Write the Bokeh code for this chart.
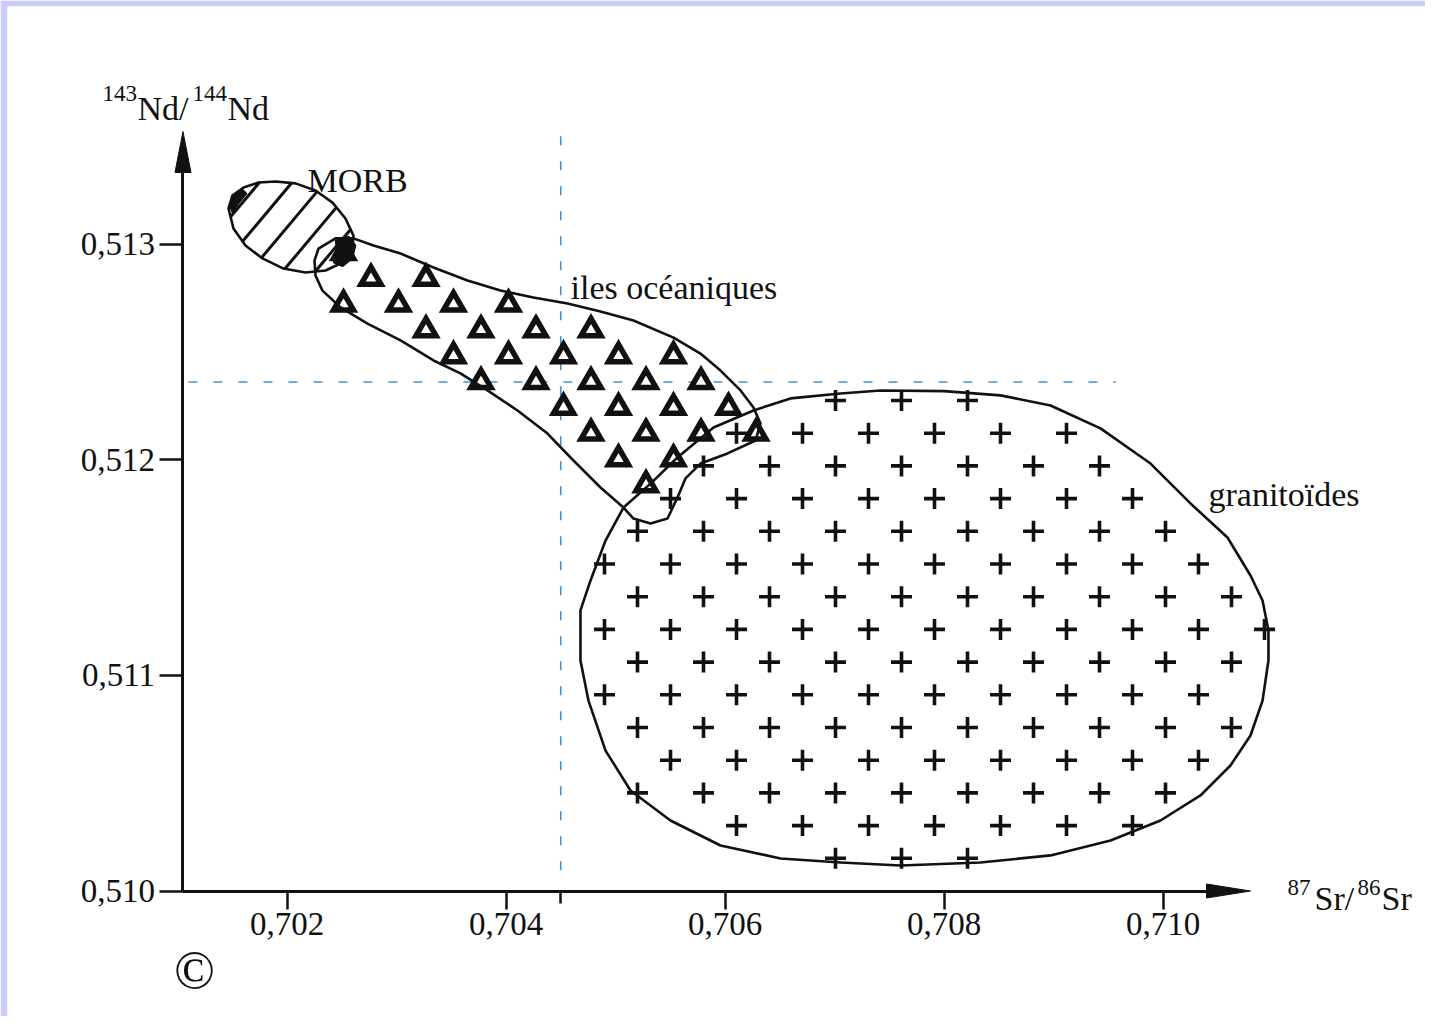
import numpy as np
from bokeh.plotting import figure
from bokeh.models import Label, FixedTicker, Range1d, CustomJSTickFormatter
from bokeh.embed import file_html
from bokeh.resources import INLINE

# ---------------- data ----------------
x_ticks = [0.702, 0.704, 0.706, 0.708, 0.710]
x_minor_ticks = [0.7045]
y_ticks = [0.510, 0.511, 0.512, 0.513]
axis_origin_sr = 0.70105
axis_origin_nd = 0.510

# dashed reference lines
sr_ref = 0.7045
sr_ref_span = [0.51350, 0.51005]
nd_ref = 0.51236
nd_ref_span = [0.70110, 0.70957]

# MORB field outline
morb_sr = [0.701466, 0.701502, 0.701603, 0.701740, 0.701895, 0.702078, 0.702260,
           0.702416, 0.702534, 0.702607, 0.702598, 0.702507, 0.702352, 0.702169,
           0.701968, 0.701776, 0.701621, 0.701511]
morb_nd = [0.513165, 0.513225, 0.513262, 0.513285, 0.513290, 0.513281, 0.513248,
           0.513192, 0.513118, 0.513039, 0.512970, 0.512914, 0.512877, 0.512868,
           0.512886, 0.512933, 0.512993, 0.513072]

# ocean-island field outline
oib_sr = [0.702288, 0.702443, 0.702607, 0.702790, 0.703037, 0.703338, 0.703648,
          0.703950, 0.704251, 0.704562, 0.704863, 0.705164, 0.705530, 0.705776,
          0.705959, 0.706142, 0.706260, 0.706324, 0.706279, 0.706023, 0.705776,
          0.705639, 0.705566, 0.705475, 0.705320, 0.705164, 0.705073, 0.704863,
          0.704616, 0.704379, 0.704105, 0.703831, 0.703584, 0.703338, 0.703037,
          0.702735, 0.702489, 0.702324, 0.702260, 0.702251]
oib_nd = [0.512979, 0.513026, 0.513026, 0.512993, 0.512956, 0.512891, 0.512831,
          0.512784, 0.512752, 0.512724, 0.512687, 0.512645, 0.512566, 0.512492,
          0.512413, 0.512321, 0.512242, 0.512168, 0.512089, 0.512029, 0.511982,
          0.511913, 0.511825, 0.511727, 0.511704, 0.511727, 0.511778, 0.511871,
          0.511996, 0.512121, 0.512228, 0.512321, 0.512400, 0.512460, 0.512553,
          0.512631, 0.512706, 0.512784, 0.512854, 0.512923]

# granitoid field outline
gran_sr = [0.704772, 0.704909, 0.705073, 0.705320, 0.705566, 0.705895, 0.706260,
           0.706598, 0.707055, 0.707420, 0.708000, 0.708516, 0.708973, 0.709429, 0.709886,
           0.710251, 0.710589, 0.710799, 0.710909, 0.710963, 0.710963, 0.710909,
           0.710799, 0.710616, 0.710342, 0.709977, 0.709521, 0.708973, 0.708333,
           0.707603, 0.707055, 0.706507, 0.705959, 0.705502, 0.705137, 0.704909,
           0.704753, 0.704680, 0.704680]
gran_nd = [0.511440, 0.511625, 0.511778, 0.511889, 0.512010, 0.512149, 0.512228,
           0.512284, 0.512307, 0.512321, 0.512318, 0.512298, 0.512251, 0.512145, 0.511982,
           0.511797, 0.511639, 0.511463, 0.511347, 0.511208, 0.511069, 0.510883,
           0.510721, 0.510582, 0.510443, 0.510327, 0.510234, 0.510165, 0.510132,
           0.510118, 0.510132, 0.510151, 0.510211, 0.510327, 0.510466, 0.510651,
           0.510883, 0.511069, 0.511301]

# ink blobs of the drawing (junction MORB / ocean islands, MORB tip)
blob_sr = [[0.702443, 0.702562, 0.702626, 0.702598, 0.702507, 0.702425, 0.702452],
           [0.701475, 0.701511, 0.701594, 0.701630, 0.701557, 0.701502]]
blob_nd = [[0.513016, 0.513035, 0.512993, 0.512933, 0.512896, 0.512914, 0.512970],
           [0.513179, 0.513225, 0.513253, 0.513234, 0.513188, 0.513146]]

# ---------------- layout helpers (page pixels of the reference) ----------------
SX = 109500.0          # px per unit of 87Sr/86Sr
SY = 215667.0          # px per unit of 143Nd/144Nd
PX_REF, X_REF = 286.5, 0.702
PY_REF, Y_REF = 243.5, 0.513


def X(px):
    return X_REF + (px - PX_REF) / SX


def Y(py):
    return Y_REF - (py - PY_REF) / SY


W, H = 1425, 1016
MB_L, MB_T = 7, 6
FONT = "Liberation Serif"
INK = "#111111"

p = figure(width=W, height=H, output_backend="svg", toolbar_location=None,
           title=None,
           x_range=Range1d(X(MB_L), X(W)),
           y_range=Range1d(Y(H), Y(MB_T)),
           min_border_left=MB_L, min_border_bottom=0,
           min_border_top=MB_T, min_border_right=0)
p.outline_line_color = None
p.grid.visible = False
p.background_fill_color = "white"
p.border_fill_color = "#ccccfc"

fmt = CustomJSTickFormatter(code="return tick.toFixed(3).replace('.', ',');")

xa = p.xaxis[0]
xa.ticker = FixedTicker(ticks=x_ticks, minor_ticks=x_minor_ticks)
xa.formatter = fmt
xa.fixed_location = axis_origin_nd
xa.bounds = (axis_origin_sr, X(1212))
xa.major_tick_out = 18
xa.major_tick_in = 0
xa.minor_tick_out = 12
xa.minor_tick_in = 0
xa.major_label_standoff = 4

ya = p.yaxis[0]
ya.ticker = FixedTicker(ticks=y_ticks, minor_ticks=[])
ya.formatter = fmt
ya.fixed_location = axis_origin_sr
ya.bounds = (axis_origin_nd, Y(168))
ya.major_tick_out = 23
ya.major_tick_in = 0
ya.major_label_standoff = 5

for ax in (xa, ya):
    ax.axis_line_width = 3
    ax.axis_line_color = INK
    ax.major_tick_line_width = 2.5
    ax.major_tick_line_color = INK
    ax.minor_tick_line_width = 2.5
    ax.minor_tick_line_color = INK
    ax.major_label_text_font = FONT
    ax.major_label_text_font_size = "33px"
    ax.major_label_text_color = INK

# arrow heads of the axes
p.patches(xs=[[X(1250), X(1206), X(1206)], [axis_origin_sr, axis_origin_sr - 8 / SX, axis_origin_sr + 8 / SX]],
          ys=[[axis_origin_nd, axis_origin_nd + 7 / SY, axis_origin_nd - 7 / SY], [Y(131), Y(172), Y(172)]],
          fill_color=INK, line_color=INK, line_width=1)

# dashed reference lines
p.line([sr_ref, sr_ref], sr_ref_span, line_color="#4a90c8", line_width=1.6, line_dash="9 16")
p.line(nd_ref_span, [nd_ref, nd_ref], line_color="#4a90c8", line_width=1.6, line_dash="9 16")


# ---------------- fill patterns ----------------
def to_px(xs, ys):
    return (np.asarray(xs) - X_REF) * SX, -(np.asarray(ys) - Y_REF) * SY


def inside(px, py, xs, ys):
    xs = np.asarray(xs)
    ys = np.asarray(ys)
    res = np.zeros(len(px), dtype=bool)
    j = len(xs) - 1
    for i in range(len(xs)):
        cond = ((ys[i] > py) != (ys[j] > py)) & \
               (px < (xs[j] - xs[i]) * (py - ys[i]) / (ys[j] - ys[i] + 1e-30) + xs[i])
        res ^= cond
        j = i
    return res


def lattice(px0, py0, dxp, dyp, rows, cols, shift):
    xs, ys = [], []
    for r in rows:
        for c in cols:
            xs.append(X(px0 + c * dxp + (shift if r % 2 else 0)))
            ys.append(Y(py0 + r * dyp))
    return np.array(xs), np.array(ys)


# triangles in the ocean-island field (centre and apex inside the field)
tx, ty = lattice(370.5, 278, 55, 25.8, range(-1, 11), range(-2, 10), -27.5)
m = inside(tx, ty, oib_sr, oib_nd) & inside(tx, ty + 10 / SY, oib_sr, oib_nd)
p.scatter(tx[m], ty[m], marker="triangle", size=20, fill_color="white",
          line_color=INK, line_width=5.5, line_join="miter")

# crosses in the granitoid field
cx, cy = lattice(637, 400, 66, 32.7, range(-1, 16), range(-2, 11), -33)
m = inside(cx, cy, gran_sr, gran_nd)
p.scatter(cx[m], cy[m], marker="cross", size=21, line_color=INK, line_width=3.6)


# diagonal hatching in the MORB field
def hatch(xs, ys, spacing, angle_deg, through):
    u, v = to_px(xs, ys)
    th = np.radians(angle_deg)
    d = np.array([np.cos(th), -np.sin(th)])
    n = np.array([np.sin(th), np.cos(th)])
    proj = u * n[0] + v * n[1]
    tu, tv = to_px([through[0]], [through[1]])
    c0 = tu[0] * n[0] + tv[0] * n[1]
    x0, y0, x1, y1 = [], [], [], []
    for k in range(-12, 13):
        c = c0 + k * spacing
        pts = []
        N = len(u)
        for i in range(N):
            j = (i + 1) % N
            a, b = proj[i] - c, proj[j] - c
            if (a > 0) != (b > 0):
                t = a / (a - b)
                pu = u[i] + t * (u[j] - u[i])
                pv = v[i] + t * (v[j] - v[i])
                pts.append((pu * d[0] + pv * d[1], pu, pv))
        pts.sort()
        for q in range(0, len(pts) - 1, 2):
            x0.append(X_REF + pts[q][1] / SX)
            y0.append(Y_REF - pts[q][2] / SY)
            x1.append(X_REF + pts[q + 1][1] / SX)
            y1.append(Y_REF - pts[q + 1][2] / SY)
    return x0, y0, x1, y1


hx0, hy0, hx1, hy1 = hatch(morb_sr, morb_nd, 25, 50, (X(263), Y(216)))
p.segment(hx0, hy0, hx1, hy1, line_color=INK, line_width=3)

# ink blobs
p.patches(blob_sr, blob_nd, fill_color=INK, line_color=INK, line_width=1.5)

# field outlines
for fx, fy in ((morb_sr, morb_nd), (oib_sr, oib_nd), (gran_sr, gran_nd)):
    p.patch(fx, fy, fill_color=None, line_color=INK, line_width=2.6, line_join="round")


# ---------------- texts ----------------
def lab(text, px, py, size, align="left", baseline="alphabetic"):
    p.add_layout(Label(x=X(px), y=Y(py), text=text, text_font=FONT,
                       text_font_size=f"{size}px", text_align=align,
                       text_baseline=baseline, text_color=INK))


lab("MORB", 307, 180, 34)
lab("iles océaniques", 570, 287, 34)
lab("granitoïdes", 1208, 494, 34)

lab("143", 102, 93, 23)
lab("Nd/", 137, 108, 34)
lab("144", 192, 93, 23)
lab("Nd", 227, 108, 34)

lab("87", 1287, 887, 23)
lab("Sr/", 1314, 898, 34)
lab("86", 1357, 887, 23)
lab("Sr", 1381, 898, 34)

lab("©", 194, 969, 54, align="center", baseline="middle")

open("out.html", "w").write(file_html(p, INLINE))
